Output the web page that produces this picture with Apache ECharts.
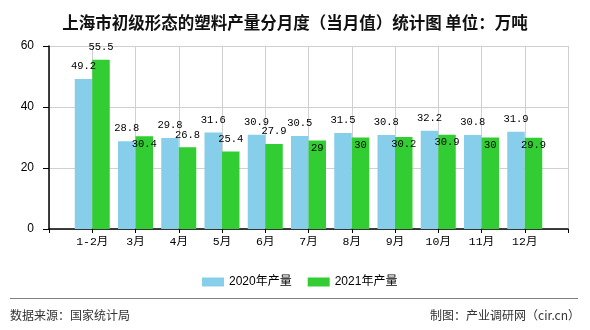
<!DOCTYPE html>
<html>
<head>
<meta charset="utf-8">
<script src="https://cdn.jsdelivr.net/npm/echarts@6/dist/echarts.min.js"></script>
<style>html,body{margin:0;padding:0;background:#fff;}#c{width:590px;height:330px;}</style>
</head>
<body>
<div id="c"></div>
<script>
const categories = ['1-2月','3月','4月','5月','6月','7月','8月','9月','10月','11月','12月'];
const values2020 = [49.2, 28.8, 29.8, 31.6, 30.9, 30.5, 31.5, 30.8, 32.2, 30.8, 31.9];
const values2021 = [55.5, 30.4, 26.8, 25.4, 27.9, 29, 30, 30.2, 30.9, 30, 29.9];
const yTicks = [0, 20, 40, 60];
const seriesNames = ['2020年产量', '2021年产量'];

const axisCats = [''].concat(categories, ['']);
const labelFont = { fontFamily: "'Liberation Mono', monospace", fontSize: 10.5, color: '#000' };

const d2020 = [null].concat(values2020.map(v => ({ value: v })), [null]);
const d2021 = [null].concat(values2021.map((v, i) => {
  const close = Math.abs(v - values2020[i]) < 2.5;
  return close ? { value: v, label: { position: 'insideTop', distance: 2 } } : { value: v };
}), [null]);

const chart = echarts.init(document.getElementById('c'));
chart.setOption({
  animation: false,
  backgroundColor: '#fff',
  title: {
    text: '上海市初级形态的塑料产量分月度（当月值）统计图 单位：万吨',
    left: 'center', top: 9,
    textStyle: { fontFamily: "'Noto Sans CJK SC'", fontSize: 16.5, fontWeight: 'bold', color: '#111' }
  },
  legend: {
    data: seriesNames,
    left: 197, top: 271,
    itemWidth: 22, itemHeight: 9, itemGap: 16,
    icon: 'rect',
    textStyle: { fontFamily: "'Liberation Sans', 'Noto Sans CJK SC'", fontSize: 12, color: '#000' }
  },
  grid: { left: 49, right: 22, top: 46, bottom: 101, containLabel: false },
  xAxis: {
    type: 'category',
    data: axisCats,
    boundaryGap: false,
    axisLine: { lineStyle: { color: '#000', width: 1.5 } },
    axisTick: { show: true, length: 4, interval: 0, lineStyle: { color: '#000' } },
    axisLabel: { interval: 0, margin: 7, fontFamily: "'Liberation Mono', 'Noto Sans CJK SC'", fontSize: 11.5, color: '#000' },
    splitLine: { show: true, interval: 0, lineStyle: { color: '#d0d0d0', width: 1 } }
  },
  yAxis: {
    type: 'value',
    min: yTicks[0], max: yTicks[yTicks.length - 1], interval: 20,
    axisLine: { show: true, lineStyle: { color: '#000', width: 1.5 } },
    axisTick: { show: true, length: 6, lineStyle: { color: '#000' } },
    axisLabel: { margin: 15, fontFamily: "'Liberation Sans'", fontSize: 12, color: '#000' },
    splitLine: { show: true, lineStyle: { color: '#d0d0d0', width: 1 } }
  },
  series: [
    {
      name: seriesNames[0], type: 'bar', data: d2020,
      barWidth: 17.5, barGap: '0%',
      itemStyle: { color: '#87CEEB' },
      label: Object.assign({ show: true, position: 'top', distance: 7 }, labelFont)
    },
    {
      name: seriesNames[1], type: 'bar', data: d2021,
      barWidth: 17.5, barGap: '0%',
      itemStyle: { color: '#32CD32' },
      label: Object.assign({ show: true, position: 'top', distance: 7 }, labelFont)
    }
  ],
  graphic: [
    { type: 'line', shape: { x1: 10, y1: 298.5, x2: 578, y2: 298.5 }, style: { stroke: '#808080', lineWidth: 1 } },
    { type: 'text', left: 10, top: 309, style: { text: '数据来源：国家统计局', font: "12px 'Noto Sans CJK SC'", fill: '#333' } },
    { type: 'text', right: 10, top: 309, style: { text: '制图：产业调研网（cir.cn）', font: "12px 'Noto Sans CJK SC'", fill: '#333' } }
  ]
});
</script>
</body>
</html>
